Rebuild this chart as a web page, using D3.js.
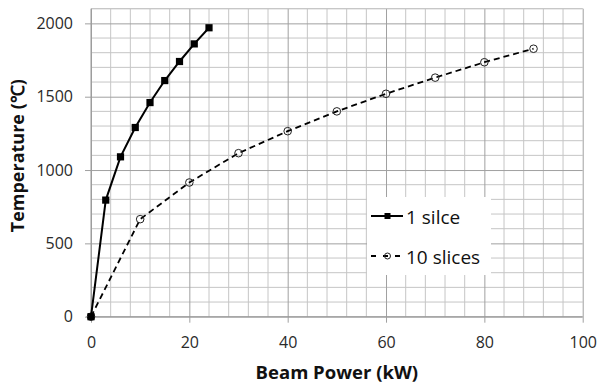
<!DOCTYPE html>
<html>
<head>
<meta charset="utf-8">
<script src="https://cdn.jsdelivr.net/npm/d3@7"></script>
<style>
  body { margin: 0; background: #fff; }
  text { font-family: "Open Sans", sans-serif; }
</style>
</head>
<body>
<svg id="chart" width="599" height="385"></svg>
<script>
// ---- data ----
const oneSliceX = [0, 3, 6, 9, 12, 15, 18, 21, 24];
const oneSliceY = [0, 795, 1090, 1290, 1460, 1610, 1740, 1860, 1970];
const tenSliceX = [0, 10, 20, 30, 40, 50, 60, 70, 80, 90];
const tenSliceY = [0, 665, 915, 1115, 1265, 1400, 1520, 1630, 1735, 1827];
const xTicks = [0, 20, 40, 60, 80, 100];
const yTicks = [0, 500, 1000, 1500, 2000];
const seriesNames = ["1 silce", "10 slices"];

// ---- layout ----
const margin = { top: 8.7, right: 16.3, bottom: 68.3, left: 91 };
const width = 599 - margin.left - margin.right;
const height = 385 - margin.top - margin.bottom;

const svg = d3.select("#chart");
const g = svg.append("g").attr("transform", `translate(${margin.left},${margin.top})`);

const x = d3.scaleLinear().domain([0, 100]).range([0, width]);
const y = d3.scaleLinear().domain([0, 2100]).range([height, 0]);

// minor grid
g.append("g").selectAll("line")
  .data(d3.range(0, 101, 4).filter(v => v % 20 !== 0))
  .enter().append("line")
    .attr("x1", d => x(d)).attr("x2", d => x(d))
    .attr("y1", 0).attr("y2", height)
    .attr("stroke", "#c6c6c6").attr("stroke-width", 1);
g.append("g").selectAll("line")
  .data(d3.range(100, 2101, 100).filter(v => v % 500 !== 0))
  .enter().append("line")
    .attr("x1", 0).attr("x2", width)
    .attr("y1", d => y(d)).attr("y2", d => y(d))
    .attr("stroke", "#c6c6c6").attr("stroke-width", 1);

// major grid + axes
const xAxis = g.append("g")
  .attr("transform", `translate(0,${height})`)
  .call(d3.axisBottom(x).tickValues(xTicks).tickSize(-height - 6).tickSizeOuter(0));
xAxis.selectAll(".tick line").attr("transform", "translate(0,6)").attr("stroke", "#a0a0a0");
xAxis.select(".domain").remove();
xAxis.selectAll("text")
  .attr("y", 20).attr("font-size", 16).attr("fill", "#2a2a2a")
  .attr("font-family", "Open Sans, sans-serif");

const yAxis = g.append("g")
  .call(d3.axisLeft(y).tickValues(yTicks).tickFormat(d3.format("d")).tickSize(-width - 6).tickSizeOuter(0));
yAxis.selectAll(".tick line").attr("transform", "translate(-6,0)").attr("stroke", "#a0a0a0");
yAxis.select(".domain").remove();
yAxis.selectAll("text")
  .attr("x", -18).attr("font-size", 16).attr("fill", "#2a2a2a")
  .attr("font-family", "Open Sans, sans-serif");

// top / left / bottom border
g.append("line").attr("x1", 0).attr("x2", width).attr("y1", 0).attr("y2", 0).attr("stroke", "#c6c6c6");
g.append("line").attr("x1", 0).attr("x2", 0).attr("y1", 0).attr("y2", height).attr("stroke", "#999");
g.append("line").attr("x1", 0).attr("x2", width).attr("y1", height).attr("y2", height).attr("stroke", "#999");

// ---- series ----
const line = d3.line().x(d => x(d[0])).y(d => y(d[1]));
const tenData = tenSliceX.map((v, i) => [v, tenSliceY[i]]);
const oneData = oneSliceX.map((v, i) => [v, oneSliceY[i]]);

g.append("path").datum(tenData)
  .attr("d", line).attr("fill", "none")
  .attr("stroke", "#000").attr("stroke-width", 1.8).attr("stroke-dasharray", "6,4");
g.append("g").selectAll("circle").data(tenData).enter().append("circle")
  .attr("cx", d => x(d[0])).attr("cy", d => y(d[1])).attr("r", 3.8)
  .attr("fill", "none").attr("stroke", "#222").attr("stroke-width", 1);

g.append("path").datum(oneData)
  .attr("d", line).attr("fill", "none")
  .attr("stroke", "#000").attr("stroke-width", 2);
g.append("g").selectAll("rect").data(oneData).enter().append("rect")
  .attr("x", d => x(d[0]) - 3.6).attr("y", d => y(d[1]) - 3.6)
  .attr("width", 7.2).attr("height", 7.2).attr("fill", "#000");

// ---- legend ----
const lg = svg.append("g").attr("transform", "translate(367,197)");
lg.append("rect").attr("width", 124).attr("height", 78).attr("fill", "#fff");
seriesNames.forEach((name, i) => {
  const row = lg.append("g").attr("transform", `translate(0,${19 + i * 40})`);
  if (i === 0) {
    row.append("line").attr("x1", 4).attr("x2", 36).attr("stroke", "#000").attr("stroke-width", 2);
    row.append("rect").attr("x", 17.5).attr("y", -3).attr("width", 6).attr("height", 6).attr("fill", "#000");
  } else {
    row.append("line").attr("x1", 4).attr("x2", 36).attr("stroke", "#000").attr("stroke-width", 1.8)
      .attr("stroke-dasharray", "5,7");
    row.append("circle").attr("cx", 20.5).attr("r", 3).attr("fill", "none").attr("stroke", "#222");
  }
  row.append("text").attr("x", 39).attr("y", 7.5).attr("font-size", 19).attr("fill", "#111").text(name);
});

// ---- axis titles ----
svg.append("text")
  .attr("x", margin.left + width / 2).attr("y", 379)
  .attr("text-anchor", "middle").attr("font-size", 18.5).attr("font-weight", "bold").attr("fill", "#111")
  .text("Beam Power (kW)");
svg.append("text")
  .attr("transform", `translate(24,${margin.top + height / 2 - 7}) rotate(-90)`)
  .attr("text-anchor", "middle").attr("font-size", 18).attr("font-weight", "bold").attr("fill", "#111")
  .text("Temperature (℃)");
</script>
</body>
</html>
